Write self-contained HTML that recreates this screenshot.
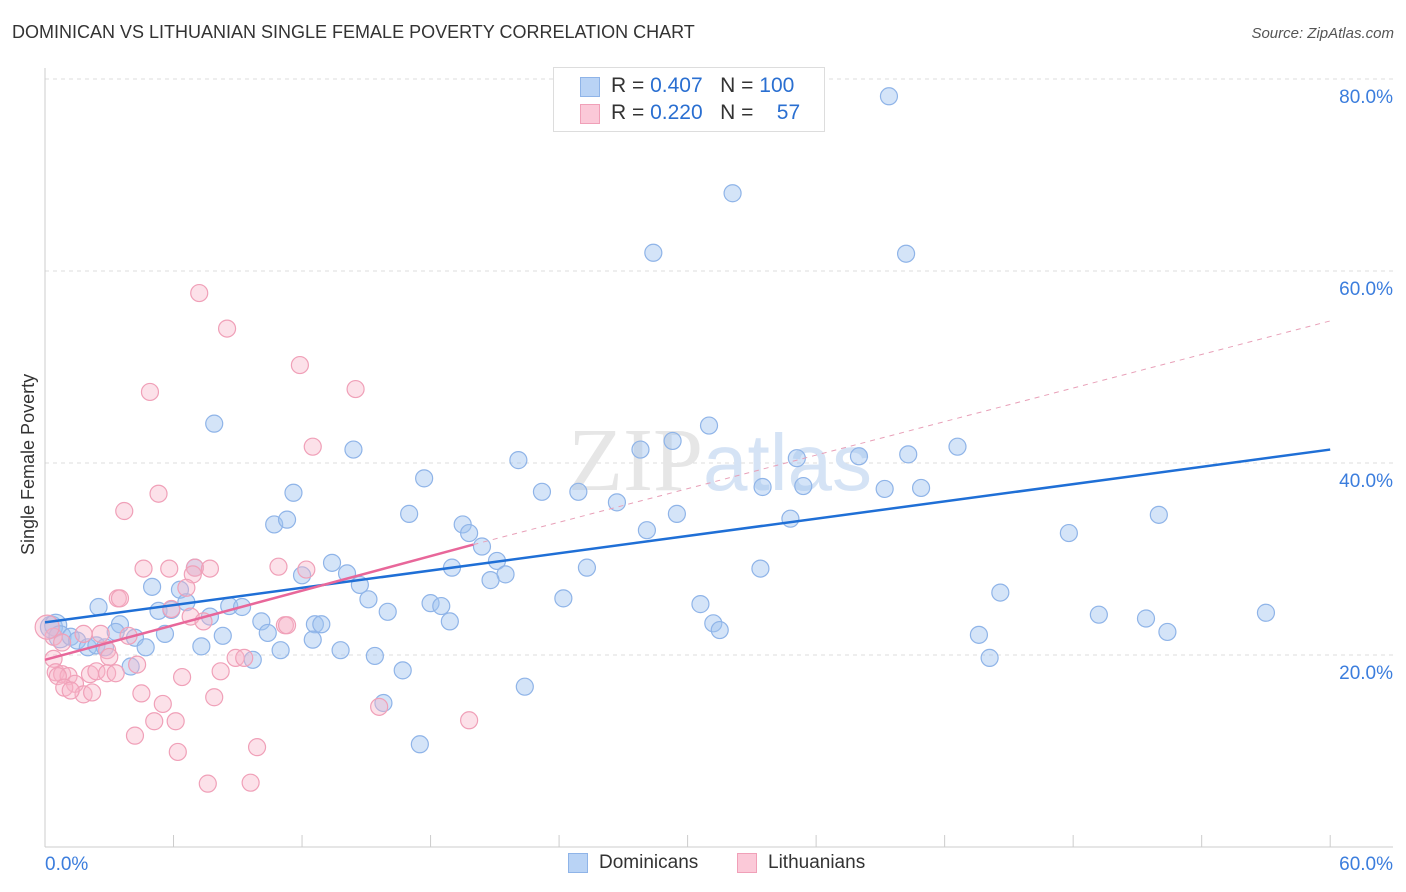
<!DOCTYPE html>
<html><head><meta charset="utf-8">
<style>
body{margin:0;background:#fff;font-family:"Liberation Sans",sans-serif;}
#wrap{position:relative;width:1406px;height:892px;overflow:hidden;}
.t{position:absolute;white-space:nowrap;}
</style></head><body>
<div id="wrap">
<div class="t" style="left:12px;top:22px;font-size:18px;color:#333;">DOMINICAN VS LITHUANIAN SINGLE FEMALE POVERTY CORRELATION CHART</div>
<div class="t" style="right:12px;top:25px;font-size:15px;color:#555;font-style:italic;">Source: ZipAtlas.com</div>
<div class="t" style="left:18px;top:555px;font-size:18px;color:#333;transform:rotate(-90deg);transform-origin:0 0;">Single Female Poverty</div>
<svg id="svg" width="1406" height="892" style="position:absolute;left:0;top:0"></svg>
<div style="position:absolute;left:553px;top:67px;width:270px;height:63px;border:1px solid #ddd;background:#fff;">
 <div style="position:absolute;left:26px;top:9px;width:18px;height:18px;background:#b9d3f5;border:1px solid #8fb4e8;"></div>
 <div class="t" style="left:57px;top:6px;font-size:21px;color:#333;">R = <span style="color:#2a6fd1">0.407</span>&nbsp;&nbsp;&nbsp;N = <span style="color:#2a6fd1">100</span></div>
 <div style="position:absolute;left:26px;top:36px;width:18px;height:18px;background:#fbc9d8;border:1px solid #f0a0b8;"></div>
 <div class="t" style="left:57px;top:33px;font-size:21px;color:#333;">R = <span style="color:#2a6fd1">0.220</span>&nbsp;&nbsp;&nbsp;N = &nbsp;&nbsp;&nbsp;<span style="color:#2a6fd1">57</span></div>
</div>
<div style="position:absolute;left:568px;top:853px;width:18px;height:18px;background:#b9d3f5;border:1px solid #8fb4e8;"></div>
<div class="t" style="left:599px;top:852px;font-size:19px;color:#333;">Dominicans</div>
<div style="position:absolute;left:737px;top:853px;width:18px;height:18px;background:#fbc9d8;border:1px solid #f0a0b8;"></div>
<div class="t" style="left:768px;top:852px;font-size:19px;color:#333;">Lithuanians</div>
</div>
<script>
const blueX=[39.4,32.1,28.4,40.2,7.9,31.0,14.4,27.8,29.3,22.1,35.1,38.0,40.3,42.6,17.7,11.6,23.2,24.9,26.7,33.5,35.4,39.2,40.9,17.0,10.7,11.3,19.5,19.8,28.1,29.5,34.8,47.8,52.0,20.4,21.1,13.4,14.1,7.0,19.0,21.5,20.8,25.3,33.4,12.0,5.0,14.7,6.3,15.1,44.6,24.2,2.5,5.3,5.9,6.6,8.6,9.2,18.0,18.5,16.0,30.6,7.7,10.1,3.5,49.2,51.4,57.0,31.2,12.6,12.9,18.9,0.3,0.5,0.7,1.2,1.5,2.0,2.4,2.8,3.3,4.2,4.7,5.6,8.3,10.4,7.3,11.0,12.5,13.8,43.6,31.5,52.4,9.7,15.4,4.0,16.7,44.1,22.4,15.8,17.5];
const blueY=[78.2,68.1,61.9,61.8,44.1,43.9,41.4,41.4,42.3,40.3,40.5,40.7,40.9,41.7,38.4,36.9,37.0,37.0,35.9,37.5,37.6,37.3,37.4,34.7,33.6,34.1,33.6,32.7,33.0,34.7,34.2,32.7,34.6,31.3,29.8,29.6,28.5,29.1,29.1,28.4,27.8,29.1,29.0,28.3,27.1,27.3,26.8,25.8,26.5,25.9,25.0,24.6,24.7,25.5,25.1,25.0,25.4,25.1,24.5,25.3,24.0,23.5,23.2,24.2,23.8,24.4,23.3,23.2,23.2,23.5,22.9,23.1,21.9,21.9,21.5,20.8,21.0,20.8,22.4,21.8,20.8,22.2,22.0,22.3,20.9,20.5,21.6,20.5,22.1,22.6,22.4,19.5,19.9,18.8,18.4,19.7,16.7,15.0,10.7];
const pinkX=[7.2,8.5,11.9,14.5,4.9,12.5,5.3,3.7,7.0,7.7,4.6,5.8,10.9,12.2,6.9,3.4,3.5,6.6,5.9,6.8,7.4,11.2,11.3,1.8,2.6,3.9,0.4,0.1,0.8,2.9,0.4,4.3,3.0,8.9,9.3,8.2,0.5,0.8,1.1,2.1,2.4,2.9,3.3,1.4,0.6,0.9,1.8,2.2,1.2,4.5,7.9,6.4,5.5,5.1,6.1,4.2,6.2,9.9,15.6,19.8,7.6,9.6];
const pinkY=[57.7,54.0,50.2,47.7,47.4,41.7,36.8,35.0,29.1,29.0,29.0,29.0,29.2,28.9,28.4,25.9,25.9,27.0,24.8,24.0,23.5,23.1,23.1,22.2,22.2,22.0,21.9,22.9,21.3,20.5,19.6,19.0,19.8,19.7,19.7,18.3,18.2,18.0,17.8,18.0,18.3,18.1,18.1,17.0,17.8,16.6,15.9,16.1,16.3,16.0,15.6,17.7,14.9,13.1,13.1,11.6,9.9,10.4,14.6,13.2,6.6,6.7];
const blueTrend=[23.4,41.4];
const pinkTrend=[19.5,31.5,54.8];
const yTicks=[20,40,60,80];
const xTickLabels=["0.0%","60.0%"];
const NS="http://www.w3.org/2000/svg";
const svg=document.getElementById('svg');
const X=v=>45+v*21.42, Y=v=>847-v*9.6;
function el(t,a){const e=document.createElementNS(NS,t);for(const k in a)e.setAttribute(k,a[k]);svg.appendChild(e);return e;}
// gridlines
yTicks.forEach(t=>{
 const g=el('line',{x1:45,x2:1393,y1:Y(t),y2:Y(t),stroke:'#ddd','stroke-dasharray':'4,4'});
 
 
 const tx=el('text',{x:1393,y:Y(t)+24,'text-anchor':'end','font-size':19,fill:'#3b7ddd','font-family':'Liberation Sans'});
 tx.textContent=t.toFixed(1)+'%';
 
 
});
const ax=el('line',{x1:45,x2:1393,y1:847,y2:847,stroke:'#ccc'});


const ay=el('line',{x1:45,x2:45,y1:68,y2:847,stroke:'#ccc'});


for(let i=0;i<=10;i++){
 const tk=el('line',{x1:X(i*6),x2:X(i*6),y1:835,y2:847,stroke:'#ccc'});
 
 
}
[[0,'start',45],[60,'end',1393]].forEach((d,i)=>{
 const tx=el('text',{x:d[2],y:870,'text-anchor':d[1],'font-size':19,fill:'#3b7ddd','font-family':'Liberation Sans'});
 tx.textContent=xTickLabels[i];
 
 
});
// watermark
const wm=el('text',{x:720,y:490,'text-anchor':'middle','font-size':90,fill:'#e6e6e6','font-family':'Liberation Serif'});
wm.innerHTML='ZIP<tspan fill="#d5e3f5" font-family="Liberation Sans" font-size="80">atlas</tspan>';


// points
blueX.forEach((x,i)=>{
 const c=el('circle',{cx:X(x),cy:Y(blueY[i]),r:(x<1?11:8.5),fill:'rgba(160,196,240,0.45)',stroke:'#8fb4e8','stroke-width':1.2});
 
 
});
pinkX.forEach((x,i)=>{
 const c=el('circle',{cx:X(x),cy:Y(pinkY[i]),r:(x<0.3?12:8.5),fill:'rgba(248,180,200,0.4)',stroke:'#f0a0b8','stroke-width':1.2});
 
 
});
// trends
const pd=el('line',{x1:X(20),y1:Y(pinkTrend[1]),x2:X(60),y2:Y(pinkTrend[2]),stroke:'#e8a0b8','stroke-width':1,'stroke-dasharray':'5,5'});


const bl=el('line',{x1:X(0),y1:Y(blueTrend[0]),x2:X(60),y2:Y(blueTrend[1]),stroke:'#1f6fd6','stroke-width':2.5});


const pl=el('line',{x1:X(0),y1:Y(pinkTrend[0]),x2:X(20),y2:Y(pinkTrend[1]),stroke:'#e8679a','stroke-width':2.5});


</script>
</body></html>
